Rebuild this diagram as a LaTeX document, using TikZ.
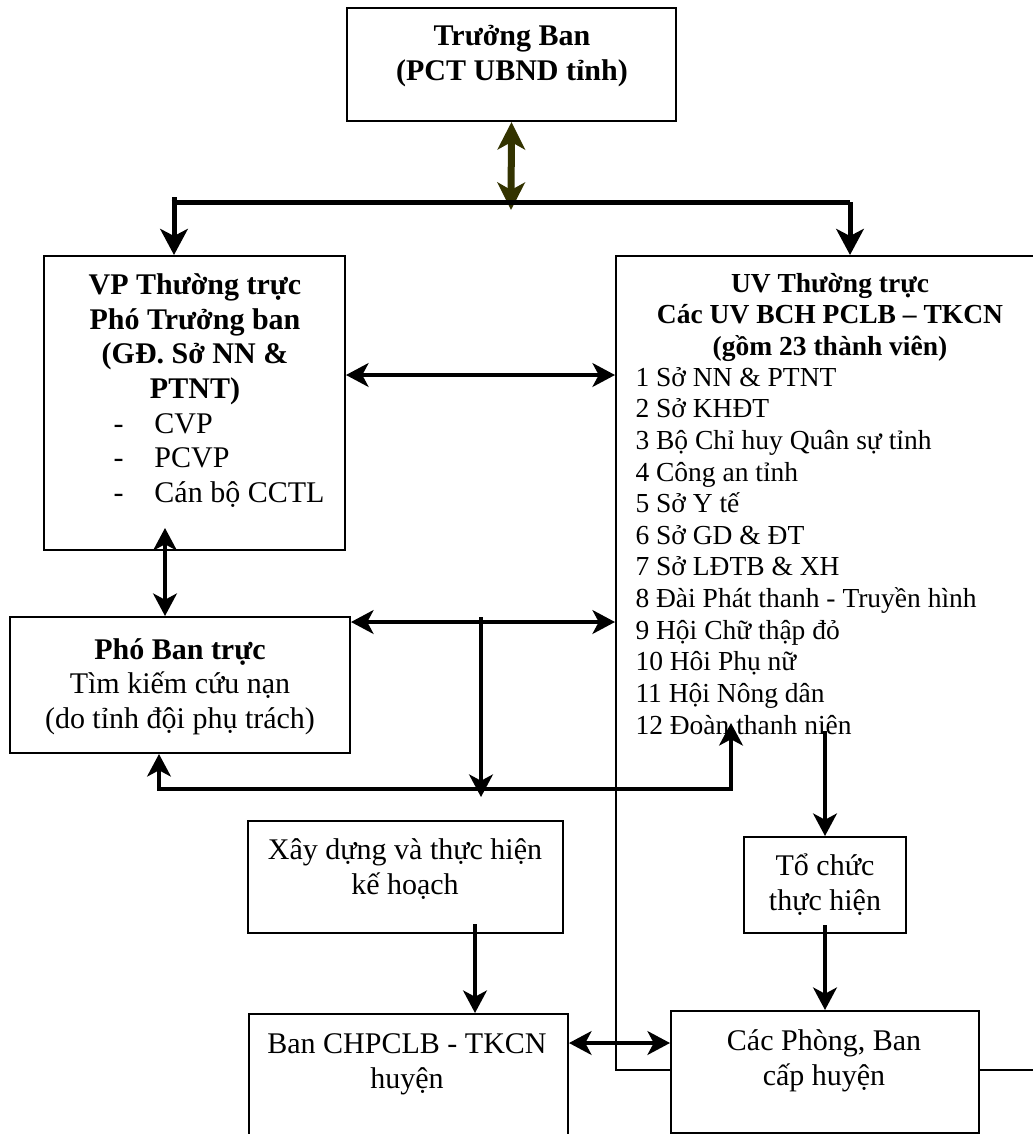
\documentclass[tikz,border=0pt]{standalone}
\usepackage{fontspec}
\setmainfont{Liberation Serif}
\usetikzlibrary{arrows.meta,positioning}
\definecolor{darkolive}{RGB}{51,51,0}
\tikzset{
    box/.style={draw, rectangle, fill=white, line width=0.8pt, inner sep=0pt},
    txt/.style={align=center, inner sep=0pt, font=\fontsize{12}{13.8}\selectfont},
    stxt/.style={inner sep=0pt, font=\fontsize{11}{12.65}\selectfont}
}
\tikzset{
    link/.style={line width=1.5pt, -{Stealth[length=9pt,width=9.5pt,inset=2.5pt]}},
    dlink/.style={line width=1.5pt, {Stealth[length=9pt,width=9.5pt,inset=2.5pt]}-{Stealth[length=9pt,width=9.5pt,inset=2.5pt]}},
    blink/.style={line width=2pt, -{Stealth[length=10.4pt,width=11pt,inset=2.8pt]}}
}

\begin{document}
\begin{tikzpicture}[x=0.4pt, y=-0.4pt]
  \useasboundingbox (0,0) rectangle (1033,1134);
  \clip (0,0) rectangle (1033,1134);

  \node (tb) [box, minimum width=131.6pt, minimum height=45.2pt] at (511.5,64.5) {};
  \node (vp) [box, minimum width=120.4pt, minimum height=117.6pt] at (194.5,403) {};
  \node (uv) [box, minimum width=171.6pt, minimum height=325.6pt] at (830.5,663) {};
  \node (pb) [box, minimum width=136pt, minimum height=54.4pt] at (180,685) {};
  \node (xd) [box, minimum width=126pt, minimum height=44.8pt] at (405.5,877) {};
  \node (tc) [box, minimum width=64.8pt, minimum height=38.4pt] at (825,885) {};
  \node (bh) [box, minimum width=127.6pt, minimum height=54.4pt] at (408.5,1082) {};
  \node (cp) [box, minimum width=123.2pt, minimum height=48.8pt] at (825,1072) {};

  % anchor=base gives the last line
  \node (tbtxt) [txt, anchor=base] at (512,80) {\textbf{Trưởng Ban}\\\textbf{(PCT UBND tỉnh)}};
  \node (vptxt) [txt, anchor=base] at (195,398)
    {\textbf{VP Thường trực}\\\textbf{Phó Trưởng ban}\\\textbf{(GĐ. Sở NN \&}\\\textbf{PTNT)}};
  \node (vplist) [txt, align=left, anchor=base west] at (113,502)
    {\makebox[16.4pt][l]{-}CVP\\\makebox[16.4pt][l]{-}PCVP\\\makebox[16.4pt][l]{-}Cán bộ CCTL};
  \node (uvtxt) [stxt, align=center, anchor=base] at (830,355.5)
    {\textbf{UV Thường trực}\\\textbf{Các UV BCH PCLB – TKCN}\\\textbf{(gồm 23 thành viên)}};
  \node (uvlist) [stxt, align=left, anchor=base west] at (635,734)
    {1 Sở NN \& PTNT\\2 Sở KHĐT\\3 Bộ Chỉ huy Quân sự tỉnh\\4 Công an tỉnh\\5 Sở Y tế\\6 Sở GD \& ĐT\\
     7 Sở LĐTB \& XH\\8 Đài Phát thanh - Truyền hình\\9 Hội Chữ thập đỏ\\10 Hôi Phụ nữ\\11 Hội Nông dân\\12 Đoàn thanh niên};
  \node (pbtxt) [txt, anchor=base] at (180,728) {\textbf{Phó Ban trực}\\Tìm kiếm cứu nạn\\(do tỉnh đội phụ trách)};
  \node (xdtxt) [txt, anchor=base] at (405,894) {Xây dựng và thực hiện\\kế hoạch};
  \node (tctxt) [txt, anchor=base] at (825,910) {Tổ chức\\thực hiện};
  \node (bhtxt) [txt, anchor=base] at (407,1088) {Ban CHPCLB - TKCN\\huyện};
  \node (cptxt) [txt, anchor=base] at (824,1085) {Các Phòng, Ban\\cấp huyện};

  % duong noi
  \coordinate (barL) at (174,202);
  \coordinate (barR) at (850,202);
  \coordinate (barM) at (511,210);
  \coordinate (k1) at (480,375);
  \coordinate (k2) at (165,528);
  \coordinate (k3) at (481,622);
  \coordinate (k4) at (481,797);
  \coordinate (k5) at (159,789);
  \coordinate (k6) at (731,723);
  \coordinate (k7) at (825,731);
  \coordinate (k8) at (475,924);
  \coordinate (k9) at (620,1043);

  \draw[line width=2.8pt, darkolive, {Stealth[length=11pt,width=11pt,inset=3pt]}-{Stealth[length=11pt,width=11pt,inset=3pt]}] (tb.south) -- (barM);
  \draw[line width=2pt] ([xshift=-1pt]barL) -- (barR);
  \draw[blink] ([yshift=2pt]barL) -- (barL |- vp.north);
  \draw[blink] (barR) -- (barR |- uv.north);
  \draw[dlink] (vp.east |- k1) -- (uv.west |- k1);
  \draw[dlink] (k2) -- (k2 |- pb.north);
  \draw[dlink] (pb.east |- k3) -- (uv.west |- k3);
  \draw[link] ([yshift=2pt]k3) -- (k4);
  \draw[dlink] (k5 |- pb.south) -- (k5) -- (k6 |- k5) -- (k6);
  \draw[link] (k7) -- (tc.north);
  \draw[link] ([yshift=3.6pt]tc.south) -- (cp.north);
  \draw[link] (k8) -- (k8 |- bh.north);
  \draw[dlink] (bh.east |- k9) -- (cp.west |- k9);
\end{tikzpicture}
\end{document}
